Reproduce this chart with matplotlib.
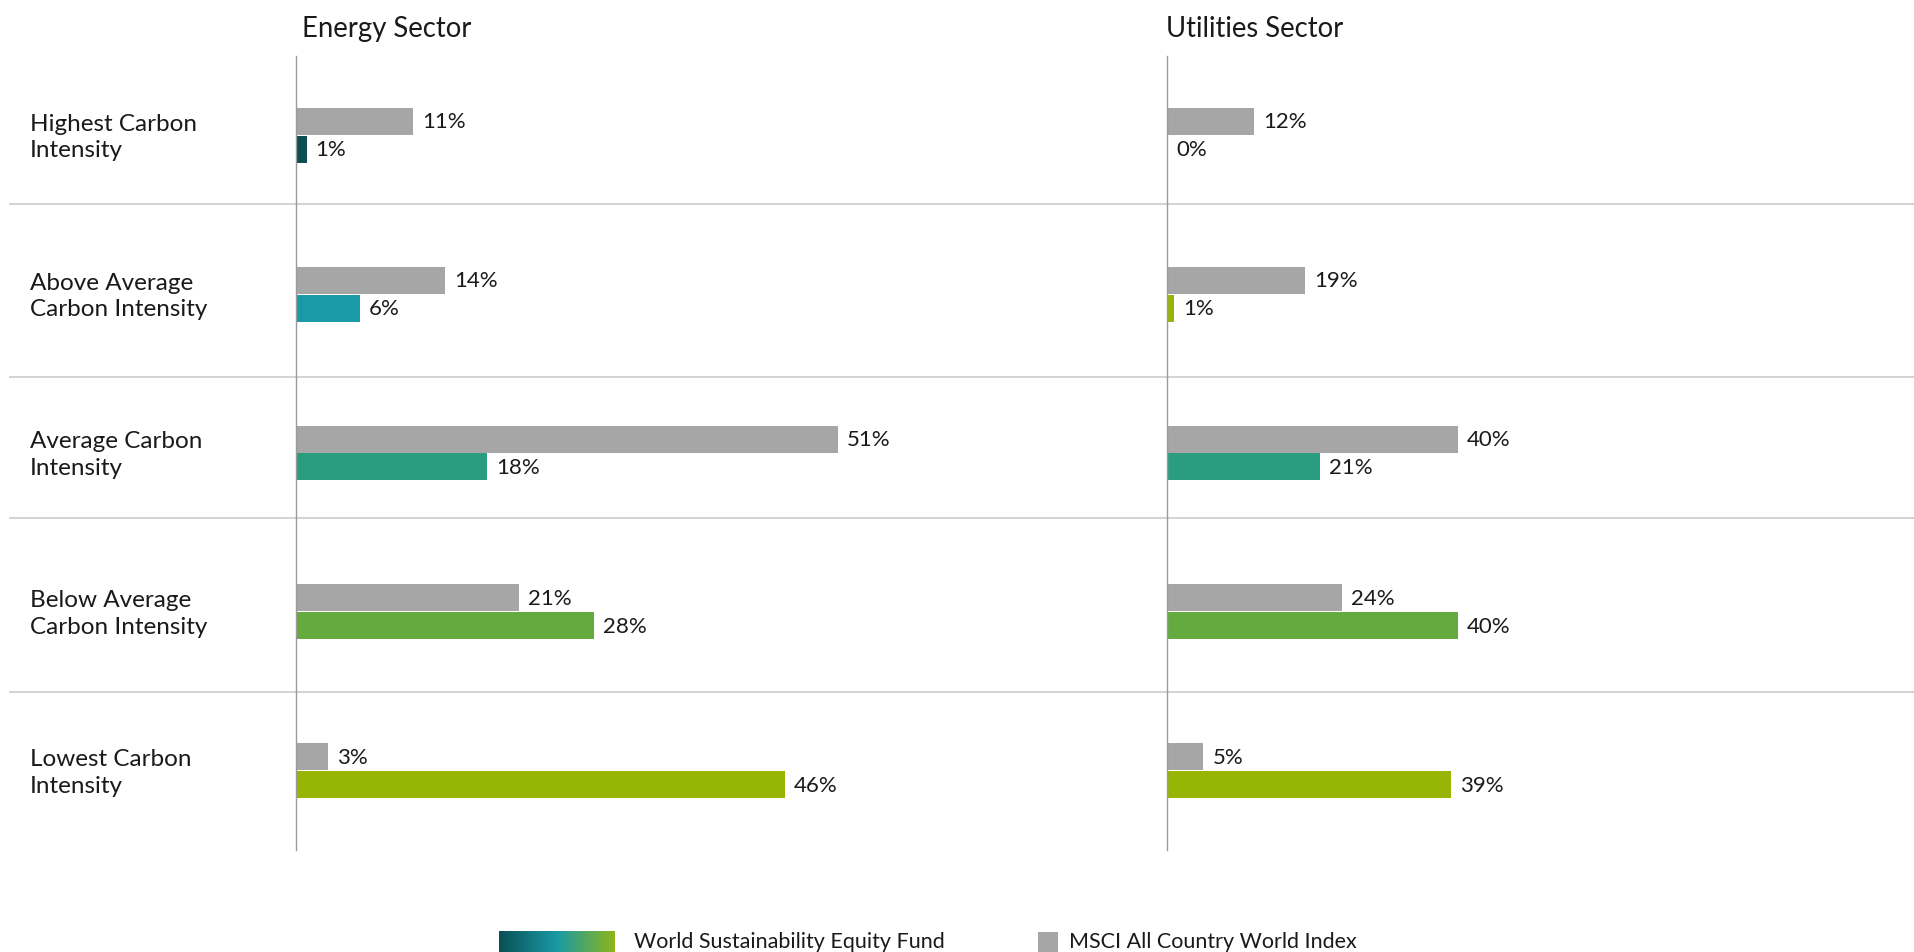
import numpy as np
import matplotlib.pyplot as plt
from matplotlib.colors import LinearSegmentedColormap
from matplotlib.transforms import blended_transform_factory

plt.rcParams['font.family'] = ['Lato', 'DejaVu Sans']

# data
categories = ["Highest Carbon\nIntensity", "Above Average\nCarbon Intensity",
              "Average Carbon\nIntensity", "Below Average\nCarbon Intensity",
              "Lowest Carbon\nIntensity"]
sectors = ["Energy Sector", "Utilities Sector"]
energy_index = [11, 14, 51, 21, 3]
energy_fund = [1, 6, 18, 28, 46]
utilities_index = [12, 19, 40, 24, 5]
utilities_fund = [0, 1, 21, 40, 39]
legend_labels = ["World Sustainability Equity Fund", "MSCI All Country World Index"]

# style
W, H = 1914, 953
GREY = '#A6A6A6'
TEXT = '#1a1a1a'
energy_colors = ['#0B4F55', '#1A9AA6', '#2A9D80', '#65AA3F', '#97B505']
utilities_colors = ['#0B4F55', '#97B505', '#2A9D80', '#65AA3F', '#97B505']
separators = [0.432, 1.52, 2.41, 3.505]


def fx(px):
    return px / W


def fy(py):
    return 1 - py / H


fig = plt.figure(figsize=(W / 100, H / 100), dpi=100)
top, bottom = 57, 851
ax_e = fig.add_axes([fx(296), fy(bottom), fx(1167 - 296), (bottom - top) / H])
ax_u = fig.add_axes([fx(1167), fy(bottom), fx(W - 1167), (bottom - top) / H])

y = np.arange(len(categories))
bar_h = 0.17
off = 0.088

panels = [
    (ax_e, energy_index, energy_fund, energy_colors, (1167 - 296) / 10.63),
    (ax_u, utilities_index, utilities_fund, utilities_colors, (W - 1167) / 7.28),
]
for ax, idx, fund, cols, xmax in panels:
    b1 = ax.barh(y - off, idx, height=bar_h, color=GREY)
    b2 = ax.barh(y + off, fund, height=bar_h, color=cols)
    for bars, vals in ((b1, idx), (b2, fund)):
        for b, v in zip(bars, vals):
            ax.annotate(f"{v}%", (b.get_width(), b.get_y() + b.get_height() / 2),
                        xytext=(6.5, 0), textcoords='offset points',
                        va='center', ha='left', fontsize=16, color=TEXT)
    ax.set_xlim(0, xmax)
    ax.set_ylim(len(categories) - 0.5, -0.5)
    ax.set_xticks([])
    ax.set_yticks([])
    for s in ('top', 'right', 'bottom'):
        ax.spines[s].set_visible(False)
    ax.spines['left'].set_color('#9A9A9A')
    ax.spines['left'].set_linewidth(1.0)
    ax.patch.set_alpha(0)

# section titles
fig.text(fx(302), fy(37), sectors[0], fontsize=19.8, color=TEXT, va='baseline')
fig.text(fx(1166), fy(37), sectors[1], fontsize=19.8, color=TEXT, va='baseline')

# row labels and separators
tr = blended_transform_factory(fig.transFigure, ax_e.transData)
for i, c in enumerate(categories):
    fig.text(fx(30), i + 0.007, c, transform=tr, fontsize=17.5, color=TEXT,
             va='center', ha='left', linespacing=1.33)
for s in separators:
    ax_e.plot([fx(10), 1.0], [s, s], transform=tr, color='#D0D0D0',
              lw=1.3, clip_on=False, zorder=0)

# legend
grad = LinearSegmentedColormap.from_list('g', ['#0B4F55', '#1A9AA6', '#8DB51A'])
lax = fig.add_axes([fx(499), fy(953), fx(615 - 499), (953 - 932) / H])
lax.imshow(np.linspace(0, 1, 256)[None, :], aspect='auto', cmap=grad)
lax.axis('off')
fig.text(fx(634), fy(948), legend_labels[0], fontsize=15.5, color=TEXT, va='baseline')
sax = fig.add_axes([fx(1038), fy(953), fx(20), 20 / H])
sax.add_patch(plt.Rectangle((0, 0), 1, 1, color=GREY))
sax.axis('off')
fig.text(fx(1069), fy(948), legend_labels[1], fontsize=15.5, color=TEXT, va='baseline')

fig.savefig('out.png', dpi=100)
